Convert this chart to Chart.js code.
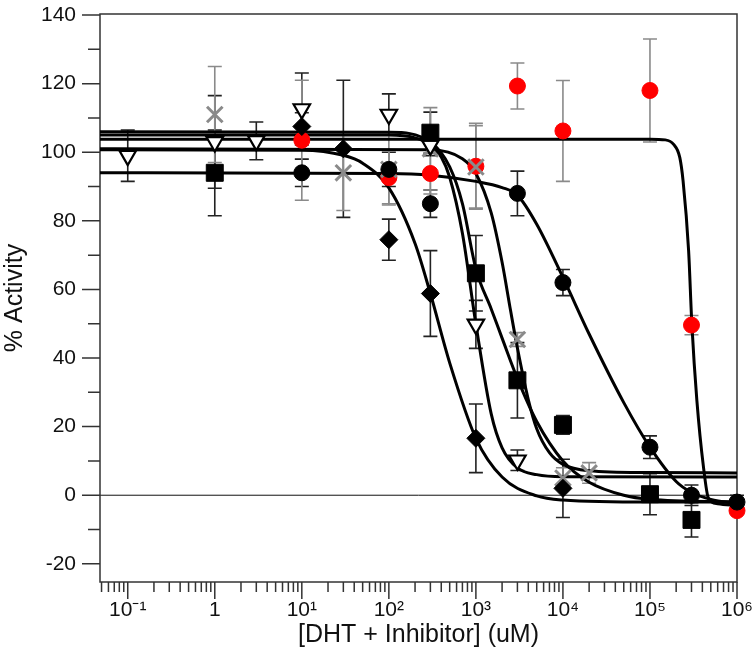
<!DOCTYPE html>
<html>
<head>
<meta charset="utf-8">
<script src="https://cdn.jsdelivr.net/npm/chart.js@4.4.1/dist/chart.umd.min.js"></script>
<style>
  html, body { margin: 0; padding: 0; background: #fff; }
  #wrap { width: 755px; height: 652px; }
</style>
</head>
<body>
<div id="wrap"><canvas id="doseChart" width="755" height="652"></canvas></div>
<script>
// axis ticks
var xTickValues = [0.1, 1, 10, 100, 1000, 10000, 100000, 1000000];
var xTickLabels = ["10\u207B\u00B9", "1", "10\u00B9", "10\u00B2", "10\u00B3", "10\u2074", "10\u2075", "10\u2076"];
var yTickValues = [-20, 0, 20, 40, 60, 80, 100, 120, 140];
var yMinorTicks = [-10, 10, 30, 50, 70, 90, 110, 130];

// measured points: concentration, % activity, error
var circX = [10, 100, 300, 3000, 10000, 100000, 300000, 1000000];
var circY = [94, 95, 85, 88, 62, 14, 0, -2];
var circErr = [4, 5, 4, 6.5, 3.8, 3.3, 3, 2];

var redX = [10, 100, 300, 1000, 3000, 10000, 100000, 300000, 1000000];
var redY = [103.5, 92.6, 93.8, 95.9, 119.3, 106.2, 118, 49.6, -4.5];
var redErr = [17.5, 8, 6, 12.5, 6.7, 14.7, 15, 2.8, 0];

var crossX = [1, 30, 100, 300, 1000, 3000, 10000, 20000];
var crossY = [111, 94, 95, 101, 95.7, 45.4, 5, 6.5];
var crossErr = [14, 11, 10, 12, 12, 2, 3, 3];

var triX = [0.1, 1, 3, 10, 100, 300, 1000, 3000];
var triY = [99, 103, 103.3, 112.6, 111, 102, 49.8, 10.2];
var triErr = [7.5, 13.5, 5.5, 10.5, 6, 3, 7, 3];

var diaX = [10, 30, 100, 300, 1000, 10000];
var diaY = [107.5, 101, 74.5, 58.8, 16.6, 2];
var diaErr = [4, 20, 6, 12.5, 10, 8.5];

var sqX = [1, 300, 1000, 3000, 10000, 100000, 300000];
var sqY = [94, 105.7, 64.7, 33.5, 20.5, 0.3, -7.2];
var sqErr = [12.5, 6, 11, 11, 2.7, 6, 5];

// fitted curves
var sqFitX = [0.048, 100, 300, 500, 700, 1000, 1500, 2000, 3000, 5000, 10000, 20000, 50000, 100000, 1000000];
var sqFitY = [106, 105.8, 103, 95.7, 85, 66, 54.3, 45.8, 34, 21.5, 10, 3.8, 0, -1.2, -2];

var triFitX = [0.048, 100, 200, 300, 400, 500, 700, 1000, 1500, 2000, 3000, 5000, 10000, 1000000];
var triFitY = [105, 105, 104.2, 102.2, 98.6, 92.7, 76.4, 49.9, 23.7, 13.8, 7.95, 6.0, 5.4, 5.3];

var crossFitX = [0.048, 300, 700, 1000, 1500, 2000, 2500, 3000, 4000, 5000, 7000, 10000, 20000, 100000, 1000000];
var crossFitY = [101, 100.7, 98.1, 93.8, 82.3, 67.9, 53.9, 42.9, 27.9, 19.4, 12.4, 9.0, 7.15, 6.6, 6.5];

var diaFitX = [0.048, 10, 30, 50, 100, 200, 300, 500, 1000, 2000, 5000, 10000, 100000, 1000000];
var diaFitY = [100.7, 100.6, 99.1, 96.8, 89.6, 73.4, 58.8, 38.6, 16.6, 5.3, -0.2, -1.4, -2, -2];

var circFitX = [0.048, 100, 300, 1000, 2000, 3000, 5000, 10000, 20000, 50000, 100000, 200000, 300000, 500000, 1000000];
var circFitY = [94, 93.8, 93.3, 91.5, 89.7, 87.5, 79, 63.5, 47, 27, 14, 4, 0.8, -1.2, -2.5];

var redFitX = [0.048, 100000, 150000, 187000, 220000, 240000, 278000, 303000, 346000, 412000, 470000, 600000, 1000000];
var redFitY = [103.8, 103.8, 103.6, 102.3, 98.5, 91.7, 71.3, 49.8, 27.6, 8.2, -0.9, -2.5, -3];

(function () {
  var xMin = 0.048, xMax = 1000000;
  var xMinorTicks = [];
  [0.01, 0.1, 1, 10, 100, 1000, 10000, 100000].forEach(function (d) {
    for (var k = 2; k <= 9; k++) {
      var v = d * k;
      if (v >= xMin && v <= xMax) xMinorTicks.push(v);
    }
  });

  function pts(xs, ys) {
    return xs.map(function (v, i) { return { x: v, y: ys[i] }; });
  }

  function fit(xs, ys) {
    return {
      data: pts(xs, ys), showLine: true, pointRadius: 0, borderColor: "#000", borderWidth: 3,
      cubicInterpolationMode: "monotone", order: 2
    };
  }

  function marks(xs, ys, err, style, opts) {
    return {
      data: pts(xs, ys), err: err, errColor: opts.errColor || "#222", pointStyle: style,
      pointRadius: opts.r, pointBackgroundColor: opts.fill, pointBorderColor: opts.stroke,
      pointBorderWidth: opts.bw || 1, pointRotation: opts.rot || 0, showLine: false, clip: false, order: 1
    };
  }

  var plotFrame = {
    id: "plotFrame",
    beforeDatasetsDraw: function (chart) {
      var ctx = chart.ctx, a = chart.chartArea, xs = chart.scales.x, ys = chart.scales.y;
      ctx.save();
      // zero line
      var z = ys.getPixelForValue(0);
      ctx.strokeStyle = "#111";
      ctx.lineWidth = 1;
      ctx.beginPath();
      ctx.moveTo(a.left, z);
      ctx.lineTo(a.right, z);
      ctx.stroke();

      // error bars
      chart.data.datasets.forEach(function (ds) {
        if (!ds.err) return;
        ctx.strokeStyle = ds.errColor;
        ctx.lineWidth = 1.6;
        ds.data.forEach(function (p, j) {
          var e = ds.err[j];
          if (!e) return;
          var px = xs.getPixelForValue(p.x);
          var t = ys.getPixelForValue(p.y + e), b = ys.getPixelForValue(p.y - e);
          ctx.beginPath();
          ctx.moveTo(px, t); ctx.lineTo(px, b);
          ctx.moveTo(px - 7, t); ctx.lineTo(px + 7, t);
          ctx.moveTo(px - 7, b); ctx.lineTo(px + 7, b);
          ctx.stroke();
        });
      });

      // frame and tick marks
      ctx.strokeStyle = "#333";
      ctx.lineWidth = 1.5;
      ctx.strokeRect(a.left, a.top, a.right - a.left, a.bottom - a.top);
      ctx.beginPath();
      yTickValues.forEach(function (v) {
        var p = ys.getPixelForValue(v);
        ctx.moveTo(a.left - 18, p); ctx.lineTo(a.left, p);
      });
      yMinorTicks.forEach(function (v) {
        var p = ys.getPixelForValue(v);
        ctx.moveTo(a.left - 12, p); ctx.lineTo(a.left, p);
      });
      xTickValues.forEach(function (v) {
        var p = xs.getPixelForValue(v);
        ctx.moveTo(p, a.bottom); ctx.lineTo(p, a.bottom + 17);
      });
      xMinorTicks.forEach(function (v) {
        var p = xs.getPixelForValue(v);
        ctx.moveTo(p, a.bottom); ctx.lineTo(p, a.bottom + 10);
      });
      ctx.stroke();
      ctx.restore();
    }
  };

  var fontFam = "Arial, 'Liberation Sans', sans-serif";

  new Chart(document.getElementById("doseChart"), {
    type: "scatter",
    data: {
      datasets: [
        fit(redFitX, redFitY),
        fit(circFitX, circFitY),
        fit(sqFitX, sqFitY),
        fit(triFitX, triFitY),
        fit(crossFitX, crossFitY),
        fit(diaFitX, diaFitY),
        marks(sqX, sqY, sqErr, "rect", { r: 12, fill: "#000", stroke: "#000" }),
        marks(diaX, diaY, diaErr, "rectRot", { r: 9, fill: "#000", stroke: "#000" }),
        marks(circX, circY, circErr, "circle", { r: 8, fill: "#000", stroke: "#000" }),
        marks(triX, triY, triErr, "triangle", { r: 9.5, fill: "#fff", stroke: "#000", bw: 2.2, rot: 180 }),
        marks(crossX, crossY, crossErr, "crossRot", { r: 11, fill: "#888", stroke: "#8a8a8a", bw: 3, errColor: "#8a8a8a" }),
        marks(redX, redY, redErr, "circle", { r: 8, fill: "#ff0000", stroke: "#ff0000", errColor: "#8a8a8a" })
      ]
    },
    options: {
      responsive: false,
      animation: false,
      events: [],
      layout: { padding: { top: 13, right: 18, left: 0, bottom: 0 } },
      plugins: { legend: { display: false }, tooltip: { enabled: false } },
      scales: {
        x: {
          type: "logarithmic",
          min: xMin,
          max: xMax,
          grid: { display: false, drawTicks: false },
          border: { display: false },
          afterBuildTicks: function (s) {
            s.ticks = xTickValues.map(function (v) { return { value: v }; });
          },
          afterFit: function (s) {
            s.height = 70;
            s.paddingLeft = 0; s.paddingRight = 0;
          },
          ticks: {
            autoSkip: false, maxRotation: 0, padding: 16, color: "#111",
            font: { family: fontFam, size: 21 },
            callback: function (v) {
              var i = xTickValues.indexOf(v);
              return i >= 0 ? xTickLabels[i] : "";
            }
          },
          title: {
            display: true, text: "[DHT + Inhibitor] (uM)", color: "#111",
            font: { family: fontFam, size: 25 }, padding: { top: 0, bottom: 2 }
          }
        },
        y: {
          min: -25.3,
          max: 140.3,
          grid: { display: false, drawTicks: false },
          border: { display: false },
          afterBuildTicks: function (s) {
            s.ticks = yTickValues.map(function (v) { return { value: v }; });
          },
          afterFit: function (s) {
            s.width = 100;
            s.paddingTop = 0; s.paddingBottom = 0;
          },
          ticks: { padding: 24, color: "#111", font: { family: fontFam, size: 21 } },
          title: {
            display: true, text: "% Activity", color: "#111",
            font: { family: fontFam, size: 25 }, padding: { top: 0, bottom: 0 }
          }
        }
      }
    },
    plugins: [plotFrame]
  });
})();
</script>
</body>
</html>
